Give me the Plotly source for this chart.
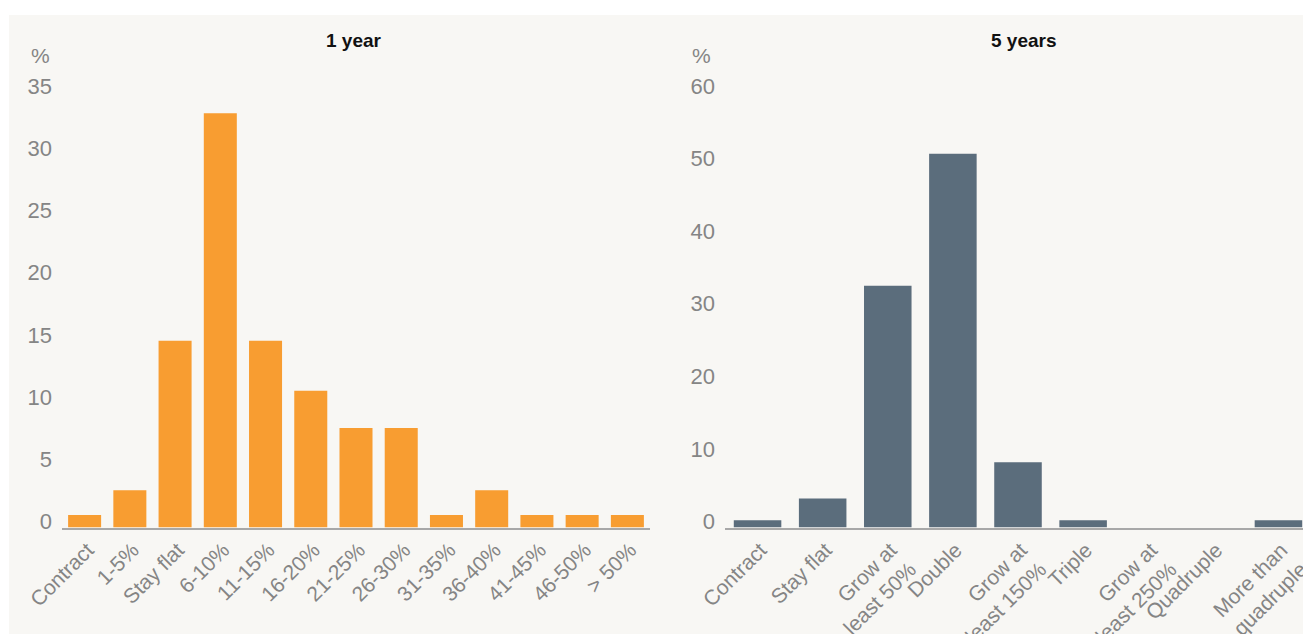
import plotly.graph_objects as go

# The page adds an 8px body margin, so the figure is sized to fit the window.
OFF = 8
W, H = 1311 - OFF, 634 - OFF

# ---- data ----
cats_1y = ["Contract", "1-5%", "Stay flat", "6-10%", "11-15%", "16-20%", "21-25%",
           "26-30%", "31-35%", "36-40%", "41-45%", "46-50%", "> 50%"]
vals_1y = [1, 3, 15, 33.3, 15, 11, 8, 8, 1, 3, 1, 1, 1]

cats_5y = ["Contract", "Stay flat", "Grow at<br>least 50%", "Double", "Grow at<br>least 150%",
           "Triple", "Grow at<br>least 250%", "Quadruple", "More than<br>quadruple"]
vals_5y = [1, 4, 33.3, 51.5, 9, 1, 0, 0, 1]

ticks_1y = [0, 5, 10, 15, 20, 25, 30, 35]
ticks_5y = [0, 10, 20, 30, 40, 50, 60]

titles = ["1 year", "5 years"]

# ---- style ----
ORANGE = "#F89D31"
SLATE = "#5B6D7C"
BG = "#F8F7F4"
TICK = "#858585"
AXIS = "#A8A8A8"
FONT = "Liberation Sans"


def px_x(p):
    return (p - OFF) / W


def px_y(p):
    return 1 - (p - OFF) / H


fig = go.Figure()
fig.add_trace(go.Bar(x=cats_1y, y=vals_1y, marker=dict(color=ORANGE, line=dict(width=0)),
                     xaxis="x", yaxis="y", showlegend=False))
fig.add_trace(go.Bar(x=cats_5y, y=vals_5y, marker=dict(color=SLATE, line=dict(width=0)),
                     xaxis="x2", yaxis="y2", showlegend=False))

ydom = [px_y(527.5), px_y(92)]
common_x = dict(showline=True, linecolor=AXIS, linewidth=2, ticks="", showgrid=False,
                zeroline=False, tickangle=-45, automargin=False, ticklabelshift=3,
                tickfont=dict(family=FONT, size=21, color=TICK, weight=300))
common_y = dict(showline=False, showgrid=False, zeroline=False, ticks="", automargin=False,
                ticklabelshift=-6, ticklabelstandoff=9,
                tickfont=dict(family=FONT, size=22, color=TICK, weight=300))

fig.update_layout(
    width=W, height=H,
    margin=dict(l=0, r=0, t=0, b=0),
    paper_bgcolor="white",
    plot_bgcolor="rgba(0,0,0,0)",
    bargap=0.27,
    xaxis=dict(domain=[px_x(62), px_x(650)], anchor="y", **common_x),
    yaxis=dict(domain=ydom, anchor="x", range=[0, 35], tickvals=ticks_1y, **common_y),
    xaxis2=dict(domain=[px_x(725), 1.0], anchor="y2", **common_x),
    yaxis2=dict(domain=ydom, anchor="x2", range=[0, 60], tickvals=ticks_5y, **common_y),
    shapes=[dict(type="rect", xref="paper", yref="paper", x0=px_x(9), x1=1,
                 y0=0, y1=px_y(15), fillcolor=BG, line=dict(width=0), layer="below")],
    annotations=[
        dict(text=titles[0], x=px_x(354), y=px_y(40), xref="paper", yref="paper",
             showarrow=False, xanchor="center", yanchor="middle",
             font=dict(family=FONT, size=19, color="#111111", weight="bold")),
        dict(text=titles[1], x=px_x(1024), y=px_y(40), xref="paper", yref="paper",
             showarrow=False, xanchor="center", yanchor="middle",
             font=dict(family=FONT, size=19, color="#111111", weight="bold")),
        dict(text="%", x=px_x(40), y=px_y(55), xref="paper", yref="paper",
             showarrow=False, xanchor="center", yanchor="middle",
             font=dict(family=FONT, size=21, color=TICK, weight=300)),
        dict(text="%", x=px_x(701), y=px_y(55), xref="paper", yref="paper",
             showarrow=False, xanchor="center", yanchor="middle",
             font=dict(family=FONT, size=21, color=TICK, weight=300)),
    ],
)

fig.write_html("out.html")
